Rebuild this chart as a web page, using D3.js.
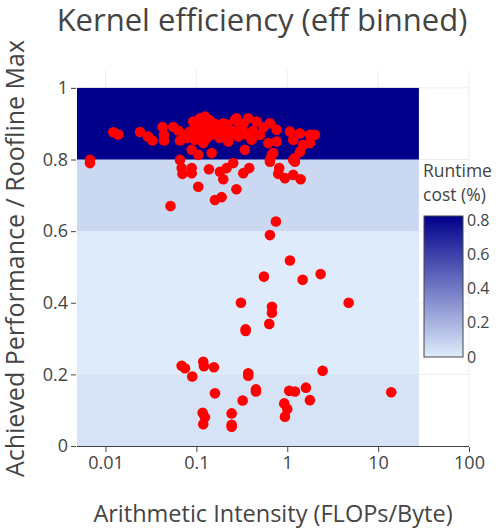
<!DOCTYPE html>
<html>
<head>
<meta charset="utf-8">
<script src="https://d3js.org/d3.v7.min.js"></script>
<style>
  body { margin: 0; background: #fff; }
  svg text { font-family: "Open Sans", sans-serif; fill: #444; }
</style>
</head>
<body>
<script>
// arithmetic intensity (FLOPs/Byte) and efficiency of each kernel
var intensity = [
  0.0122, 0.0138, 0.0240, 0.0293, 0.0329, 0.0424, 0.0440, 0.0440, 0.0557, 0.0632,
  0.0660, 0.0749, 0.0850, 0.0924, 0.1096, 0.1243, 0.0965, 0.0888, 0.1049, 0.1191,
  0.1474, 0.1602, 0.1898, 0.2154, 0.2244, 0.2658, 0.2890, 0.3424, 0.1376, 0.1977,
  0.2761, 0.3724, 0.4607, 0.3281, 0.4058, 0.5007, 0.6453, 0.7644, 0.6180, 0.7644,
  1.071, 1.379, 1.777, 2.017, 1.164, 1.777, 1.500, 1.379, 1.164, 0.6737,
  0.7015, 0.6453, 1.215,
  0.10, 0.11, 0.12, 0.13, 0.10, 0.14, 0.15, 0.17, 0.18, 0.12,
  0.095, 0.25, 0.30, 0.33, 0.20, 0.23, 0.11, 0.14, 0.16, 0.08,
  0.35, 0.42, 0.55,
  0.00675, 0.00675, 0.0660, 0.0689, 0.0703, 0.0888, 0.0888, 0.1376, 0.1818, 0.2154,
  0.1977, 0.2546, 0.3281, 0.3819, 0.1049, 0.2761, 0.1602, 0.1898, 0.0519, 0.6453,
  0.8166, 0.7962, 0.9434, 1.164, 1.404, 1.215,
  0.7509, 0.6453, 1.071, 0.5541, 1.477, 2.330, 0.3095, 0.6788, 0.6788, 4.74,
  0.6339, 0.3486, 0.3486,
  0.0689, 0.0749, 0.1191, 0.1212, 0.1562, 0.0901, 0.3724, 0.3724, 0.1602, 0.4527,
  0.4527, 0.3231, 1.052, 1.215, 1.606, 1.777, 2.451, 13.94, 0.1173, 0.1243,
  0.1191, 0.2445, 0.2445, 0.2445, 0.9268, 0.9998, 0.9434
];
var efficiency = [
  0.876, 0.870, 0.877, 0.864, 0.853, 0.891, 0.869, 0.853, 0.891, 0.881,
  0.853, 0.869, 0.878, 0.906, 0.915, 0.920, 0.855, 0.827, 0.813, 0.846,
  0.818, 0.897, 0.883, 0.897, 0.850, 0.911, 0.864, 0.827, 0.901, 0.901,
  0.915, 0.915, 0.906, 0.878, 0.855, 0.869, 0.901, 0.883, 0.846, 0.850,
  0.878, 0.873, 0.869, 0.869, 0.855, 0.846, 0.841, 0.822, 0.799, 0.813,
  0.818, 0.799, 0.804,
  0.880, 0.870, 0.890, 0.860, 0.900, 0.880, 0.870, 0.890, 0.860, 0.850,
  0.870, 0.880, 0.890, 0.900, 0.870, 0.870, 0.905, 0.910, 0.900, 0.860,
  0.870, 0.880, 0.890,
  0.799, 0.790, 0.799, 0.776, 0.760, 0.776, 0.762, 0.773, 0.766, 0.776,
  0.745, 0.790, 0.762, 0.776, 0.724, 0.717, 0.687, 0.695, 0.670, 0.794,
  0.776, 0.760, 0.748, 0.757, 0.745, 0.794,
  0.627, 0.589, 0.518, 0.473, 0.464, 0.480, 0.400, 0.389, 0.372, 0.400,
  0.341, 0.326, 0.321,
  0.224, 0.217, 0.235, 0.223, 0.220, 0.194, 0.203, 0.196, 0.147, 0.158,
  0.152, 0.127, 0.154, 0.152, 0.163, 0.128, 0.210, 0.150, 0.093, 0.080,
  0.061, 0.091, 0.059, 0.054, 0.119, 0.103, 0.082
];

// efficiency bins (lower edges) and their runtime cost
var binLow = [0, 0.2, 0.4, 0.6, 0.8];
var binCost = [0.03, 0.004, 0.004, 0.07, 0.823];
var binXRange = [0.00486, 28.1];

var xTicks = [0.01, 0.1, 1, 10, 100];
var yTicks = [0, 0.2, 0.4, 0.6, 0.8, 1];
var cbTicks = [0, 0.2, 0.4, 0.6, 0.8];

var W = 500, H = 531;
var pL = 77, pR = 469, pT = 70, pB = 446;

var svg = d3.select("body").append("svg")
  .attr("width", W).attr("height", H);

var x = d3.scaleLog().domain([0.00486, 100]).range([pL, pR]);
var y = d3.scaleLinear().domain([0, 1.05]).range([pB, pT]);
var color = d3.scaleLinear().domain([0, 0.823])
  .range(["#deecfb", "#00008b"]).interpolate(d3.interpolateRgb);

// grid
svg.append("g").selectAll("line").data(xTicks).enter().append("line")
  .attr("x1", function(d) { return x(d); }).attr("x2", function(d) { return x(d); })
  .attr("y1", pT).attr("y2", pB)
  .attr("stroke", "#eee").attr("stroke-width", 1);
svg.append("g").selectAll("line").data(yTicks.slice(1)).enter().append("line")
  .attr("x1", pL).attr("x2", pR)
  .attr("y1", function(d) { return y(d); }).attr("y2", function(d) { return y(d); })
  .attr("stroke", "#eee").attr("stroke-width", 1);

// binned background
svg.append("g").selectAll("rect").data(binLow).enter().append("rect")
  .attr("x", x(binXRange[0]))
  .attr("width", x(binXRange[1]) - x(binXRange[0]))
  .attr("y", function(d) { return y(d + 0.2); })
  .attr("height", function(d) { return y(d) - y(d + 0.2); })
  .attr("fill", function(d, i) { return color(binCost[i]); });

// zero line
svg.append("line")
  .attr("x1", pL).attr("x2", pR)
  .attr("y1", y(0) + 0.5).attr("y2", y(0) + 0.5)
  .attr("stroke", "#444").attr("stroke-width", 1);

// axes
var xAxis = svg.append("g")
  .attr("transform", "translate(0," + (pB + 1) + ")")
  .call(d3.axisBottom(x).tickValues(xTicks).tickSize(5).tickPadding(4)
    .tickFormat(function(d) { return d3.format("~g")(d); }));
xAxis.select(".domain").remove();
xAxis.selectAll("line").attr("stroke", "#444");
xAxis.selectAll("text").attr("font-size", 18).attr("fill", "#444")
  .attr("font-family", "Open Sans");

var yAxis = svg.append("g")
  .attr("transform", "translate(" + (pL - 1) + ",0)")
  .call(d3.axisLeft(y).tickValues(yTicks).tickSize(5).tickPadding(3)
    .tickFormat(function(d) { return d3.format("~g")(d); }));
yAxis.select(".domain").remove();
yAxis.selectAll("line").attr("stroke", "#444");
yAxis.selectAll("text").attr("font-size", 18).attr("fill", "#444")
  .attr("font-family", "Open Sans");

// points
svg.append("g").selectAll("circle").data(intensity).enter().append("circle")
  .attr("cx", function(d) { return x(d); })
  .attr("cy", function(d, i) { return y(efficiency[i]); })
  .attr("r", 5.3)
  .attr("fill", "#ff0000");

// titles
svg.append("text")
  .attr("x", 262).attr("y", 31)
  .attr("text-anchor", "middle").attr("font-size", 31)
  .text("Kernel efficiency (eff binned)");
svg.append("text")
  .attr("x", 273).attr("y", 522)
  .attr("text-anchor", "middle").attr("font-size", 23.5)
  .text("Arithmetic Intensity (FLOPs/Byte)");
svg.append("text")
  .attr("transform", "translate(24,258.5) rotate(-90)")
  .attr("text-anchor", "middle").attr("font-size", 25)
  .text("Achieved Performance / Roofline Max");

// colorbar
var cbX = 424, cbW = 39;
var cb = d3.scaleLinear().domain([0, 0.823]).range([357, 216]);
var defs = svg.append("defs");
var grad = defs.append("linearGradient").attr("id", "cbgrad")
  .attr("x1", 0).attr("y1", 1).attr("x2", 0).attr("y2", 0);
grad.append("stop").attr("offset", 0).attr("stop-color", color(0));
grad.append("stop").attr("offset", 1).attr("stop-color", color(0.823));
svg.append("rect")
  .attr("x", cbX).attr("y", cb(0.823))
  .attr("width", cbW).attr("height", cb(0) - cb(0.823))
  .attr("fill", "url(#cbgrad)")
  .attr("stroke", "#444").attr("stroke-width", 1);
svg.append("g").selectAll("text").data(cbTicks).enter().append("text")
  .attr("x", cbX + cbW + 4)
  .attr("y", function(d) { return cb(d); })
  .attr("dy", "0.35em")
  .attr("font-size", 16)
  .text(function(d) { return d3.format("~g")(d); });
svg.append("text").attr("x", cbX - 1).attr("y", 177).attr("font-size", 17.5).text("Runtime");
svg.append("text").attr("x", cbX - 1).attr("y", 201).attr("font-size", 17.5).text("cost (%)");
</script>
</body>
</html>
